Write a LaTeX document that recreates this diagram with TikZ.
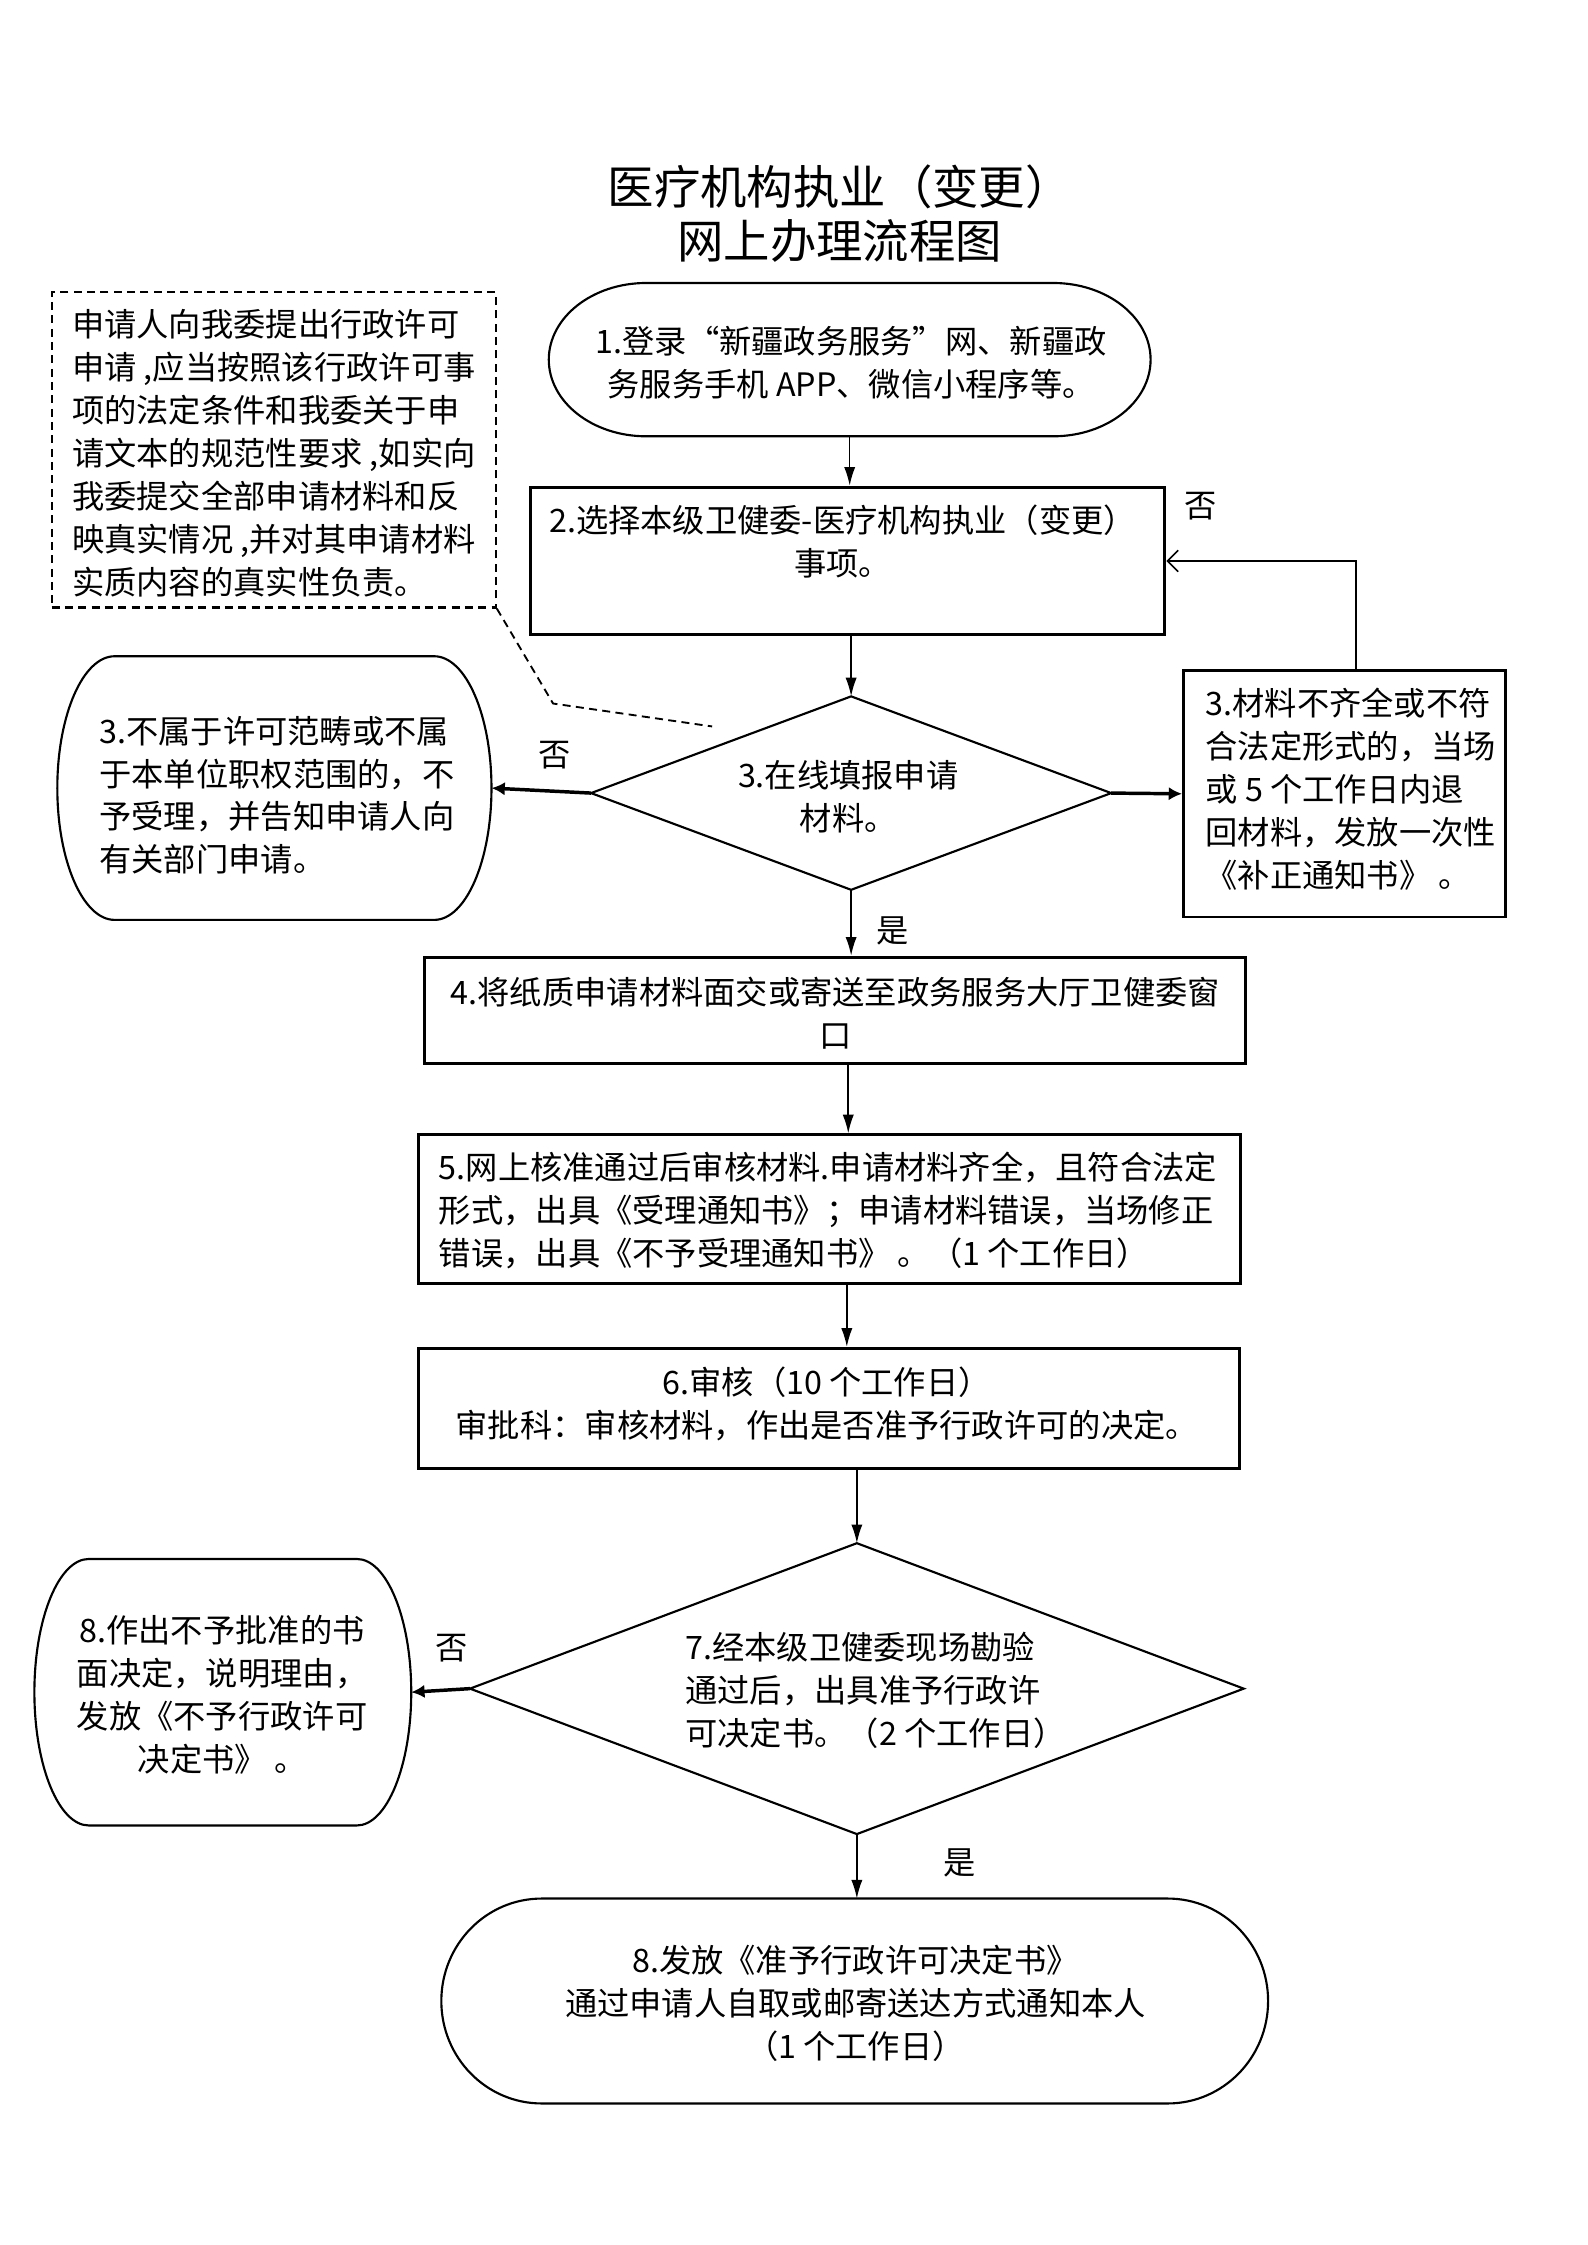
\documentclass[tikz,border=0pt]{standalone}
\usepackage{fontspec}
\newfontfamily\cjk{Noto Sans CJK SC}
\usetikzlibrary{arrows.meta,calc}
\def\un{0.5373pt}
\newcommand\mybarrel[3]{%
  \draw[curve] ($(#1.north west)+(#2,0)$) -- ($(#1.north east)+(-#2,0)$)
    arc[start angle=90,end angle=-90,x radius=#2*\un,y radius=#3*\un]
    -- ($(#1.south west)+(#2,0)$)
    arc[start angle=270,end angle=90,x radius=#2*\un,y radius=#3*\un] -- cycle;}
\begin{document}
\begin{tikzpicture}[x=\un,y=\un,
  txt/.style={font=\cjk\fontsize{12.1}{16.1}\selectfont, inner sep=0pt},
  boxr/.style={draw, line width=1.1pt, inner sep=0pt},
  holder/.style={inner sep=0pt, outer sep=0pt},
  curve/.style={line width=0.8pt},
  dia/.style={line width=0.8pt},
  arr/.style={line width=0.6pt, -{Latex[length=7pt,width=4.2pt]}},
  sarr/.style={line width=1.3pt, -{Latex[length=5pt,width=5pt]}},
  barr/.style={line width=0.6pt, -{Straight Barb[length=4pt,width=8pt]}}]
\useasboundingbox (0,0) rectangle (1107.6,-1566.8);
\fill[white] (0,0) rectangle (1107.6,-1566.8);

% title
\node[txt, font=\cjk\fontsize{17.4}{20.5}\selectfont, align=center] (title) at (586,-149) {医疗机构执业（变更）\\网上办理流程图};

% note box
\node[draw, dash pattern=on 3pt off 2pt, line width=0.8pt, minimum width=310*\un, minimum height=220*\un, inner sep=0pt] (note) at (191,-314) {};
\node[txt, align=left, anchor=west] (notet) at (50,-316.5) {申请人向我委提出行政许可\\申请 ,应当按照该行政许可事\\项的法定条件和我委关于申\\请文本的规范性要求 ,如实向\\我委提交全部申请材料和反\\映真实情况 ,并对其申请材料\\实质内容的真实性负责。};
\coordinate (nbend) at (386,-491);
\coordinate (nend) at (497,-507);
\draw[dash pattern=on 3pt off 2pt, line width=0.7pt] (note.south east) -- (nbend) -- (nend);

% box 1
\node[holder, minimum width=420*\un, minimum height=107*\un] (b1) at (593,-251) {};
\mybarrel{b1}{68}{53.5}
\node[txt, align=center] (b1t) at (594,-253) {1.登录“新疆政务服务”网、新疆政\\务服务手机 APP、微信小程序等。};

% box 2
\node[boxr, minimum width=443*\un, minimum height=103*\un] (b2) at (591.5,-391.5) {};
\node[txt, align=center] (b2t) at (588,-378) {2.选择本级卫健委-医疗机构执业（变更）\\事项。};
\node[txt] (no1) at (838,-353) {否};

% diamond 3
\node[holder, minimum width=363*\un, minimum height=135*\un] (d3) at (594,-553.5) {};
\draw[dia] (d3.north) -- (d3.east) -- (d3.south) -- (d3.west) -- cycle;
\node[txt, align=center] (d3t) at (592,-556) {3.在线填报申请\\材料。};

% left 3
\node[holder, minimum width=303*\un, minimum height=184*\un] (s3) at (191.5,-550) {};
\mybarrel{s3}{40}{92}
\node[txt, align=left, anchor=west] (s3t) at (69,-555) {3.不属于许可范畴或不属\\于本单位职权范围的，不\\予受理，并告知申请人向\\有关部门申请。};

% right 3
\node[boxr, minimum width=225*\un, minimum height=172*\un] (r3) at (938.5,-554) {};
\node[txt, align=left, anchor=west] (r3t) at (841,-551) {3.材料不齐全或不符\\合法定形式的，当场\\或 5 个工作日内退\\回材料，发放一次性\\《补正通知书》 。};

% box 4
\node[boxr, minimum width=573*\un, minimum height=74*\un] (b4) at (582.5,-705) {};
\node[txt, align=center] (b4t) at (583,-707) {4.将纸质申请材料面交或寄送至政务服务大厅卫健委窗\\口};

% box 5
\node[boxr, minimum width=574*\un, minimum height=104*\un] (b5) at (579,-844) {};
\node[txt, align=left, anchor=west] (b5t) at (306,-845) {5.网上核准通过后审核材料.申请材料齐全，且符合法定\\形式，出具《受理通知书》；申请材料错误，当场修正\\错误，出具《不予受理通知书》 。（1 个工作日）};

% box 6
\node[boxr, minimum width=573*\un, minimum height=84*\un] (b6) at (578.5,-983) {};
\node[txt, align=center] (b6t) at (577,-980) {6.审核（10 个工作日）\\审批科：审核材料，作出是否准予行政许可的决定。};

% diamond 7
\node[holder, minimum width=540*\un, minimum height=203*\un] (d7) at (598,-1178.5) {};
\draw[dia] (d7.north) -- (d7.east) -- (d7.south) -- (d7.west) -- cycle;
\node[txt, align=left, anchor=west] (d7t) at (478,-1180) {7.经本级卫健委现场勘验\\通过后，出具准予行政许\\可决定书。（2 个工作日）};

% left 8
\node[holder, minimum width=263*\un, minimum height=186*\un] (s8) at (155.5,-1181) {};
\mybarrel{s8}{38}{93}
\node[txt, align=center] (s8t) at (155,-1183) {8.作出不予批准的书\\面决定，说明理由，\\发放《不予行政许可\\决定书》 。};

% final
\node[holder, minimum width=577*\un, minimum height=143*\un] (fin) at (596.5,-1396.5) {};
\mybarrel{fin}{70}{71.5}
\node[txt, align=center] (fint) at (597,-1398) {8.发放《准予行政许可决定书》\\通过申请人自取或邮寄送达方式通知本人\\（1 个工作日）};

% connectors
\draw[arr] (b1.south) -- (b1.south |- b2.north);
\draw[arr] (d3.north |- b2.south) -- (d3.north);
\draw[sarr] (d3.west) -- (s3.east);
\draw[sarr] (d3.east) -- (r3.west);
\draw[barr] ([xshift=8*\un]r3.north) |- (b2.east);
\node[txt] (no2) at (387,-527) {否};
\draw[arr] (d3.south) -- (d3.south |- b4.north);
\node[txt] (yes1) at (623,-650) {是};
\draw[arr] ([xshift=-2*\un]d3.south |- b4.south) -- ([xshift=-2*\un]d3.south |- b5.north);
\draw[arr] ([xshift=-3*\un]d3.south |- b5.south) -- ([xshift=-3*\un]d3.south |- b6.north);
\draw[arr] (d7.north |- b6.south) -- (d7.north);
\draw[sarr] (d7.west) -- (s8.east);
\node[txt] (no3) at (315,-1150) {否};
\draw[arr] (d7.south) -- (d7.south |- fin.north);
\node[txt] (yes2) at (670,-1300) {是};
\end{tikzpicture}
\end{document}
